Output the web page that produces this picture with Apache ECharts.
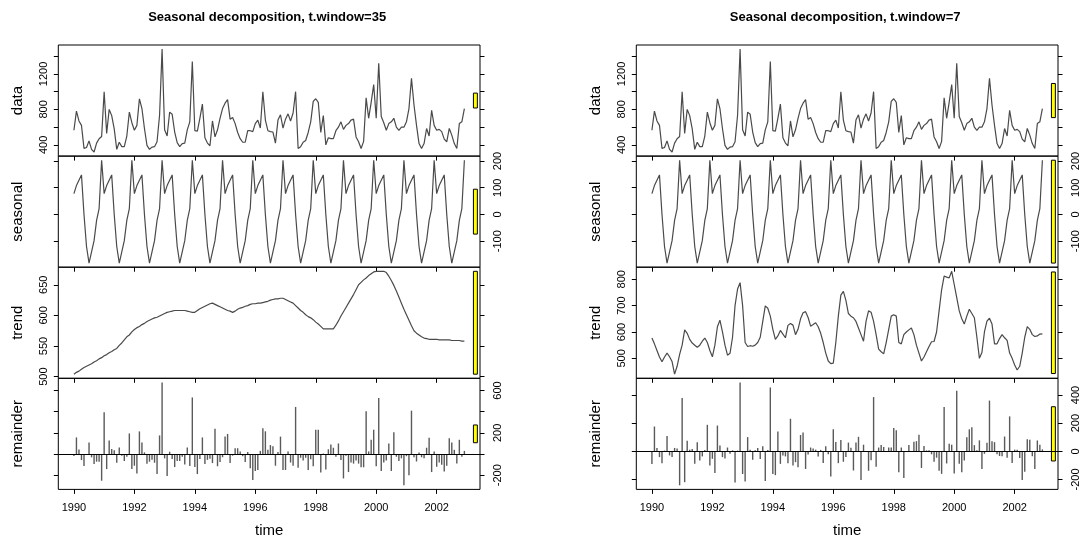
<!DOCTYPE html>
<html>
<head>
<meta charset="utf-8">
<script src="https://cdn.jsdelivr.net/npm/echarts@6/dist/echarts.min.js"></script>
<style>
  html, body { margin: 0; padding: 0; background: #ffffff; }
  #chart { width: 1083px; height: 541px; }
</style>
</head>
<body>
<div id="chart"></div>
<script>
// Monthly series, Jan 1990 .. Dec 2002
const startYear = 1990;

const observed = [
  565, 780, 670, 620, 360, 370, 445, 350, 320, 420, 470, 495,
  1000, 530, 800, 730, 580, 350, 430, 380, 380, 500, 770, 650,
  565, 620, 920, 810, 585, 395, 350, 375, 380, 435, 735, 1480,
  570, 500, 770, 745, 545, 425, 380, 415, 420, 570, 660, 1340,
  560, 555, 700, 860, 480, 420, 390, 670, 490, 570, 700, 810,
  870, 910, 690, 710, 640, 540, 470, 430, 430, 560, 560, 550,
  640, 680, 590, 1000, 680, 560, 550, 545, 420, 680, 740, 590,
  690, 750, 670, 760, 1000, 360, 380, 430, 450, 540, 660, 890,
  920, 880, 540, 730, 400, 480, 470, 470, 560, 600, 660, 575,
  620, 640, 680, 690, 490, 435, 360, 440, 930, 700, 880, 1080,
  700, 1320, 720, 650, 565, 640, 660, 700, 600, 565, 600, 600,
  660, 810, 1150, 850, 620, 415, 360, 415, 585, 500, 790, 620,
  565, 575, 550, 465, 435, 585, 510, 415, 360, 640, 660, 810
];

// periodic seasonal component, Jan..Dec
const seasonalByMonth = [78, 108, 128, 148, 0, -120, -182, -140, -98, -22, 22, 203];

// trend, t.window = 35
const trendWide = [
  504, 507, 509, 512, 515, 517, 519, 521, 524, 526, 529, 531,
  534, 536, 539, 541, 544, 546, 551, 555, 560, 565, 568, 573,
  577, 580, 582, 585, 587, 590, 592, 594, 596, 597, 599, 601,
  603, 605, 606, 607, 608, 608, 608, 608, 608, 607, 606, 605,
  605, 608, 611, 613, 615, 617, 619, 620, 618, 616, 614, 612,
  610, 608, 607, 605, 607, 610, 612, 613, 615, 616, 618, 619,
  619, 620, 620, 621, 622, 623, 625, 626, 627, 627, 628, 628,
  626, 624, 622, 620, 616, 612, 608, 605, 601, 598, 596, 593,
  589, 586, 582, 578, 578, 578, 578, 578, 584, 591, 599, 606,
  613, 620, 627, 634, 642, 650, 654, 658, 661, 665, 668, 671,
  672, 672, 672, 672, 670, 664, 657, 649, 640, 630, 620, 610,
  601, 592, 583, 575, 571, 568, 565, 563, 562, 561, 561, 561,
  561, 560, 560, 560, 560, 560, 559, 559, 559, 559, 558, 558
];

// trend, t.window = 7
const trendNarrow = [
  577, 555, 530, 505, 487, 505, 520, 506, 488, 440, 470, 515,
  550, 608, 595, 572, 558, 550, 542, 550, 565, 577, 560, 530,
  506, 550, 620, 645, 600, 550, 512, 519, 580, 700, 763, 787,
  700, 560, 545, 548, 546, 550, 560, 580, 640, 699, 690, 660,
  610, 572, 585, 606, 592, 578, 625, 632, 626, 590, 610, 650,
  673, 677, 655, 622, 628, 635, 620, 595, 560, 520, 490, 480,
  482, 560, 660, 740, 754, 720, 670, 660, 654, 640, 615, 590,
  565, 640, 680, 675, 640, 590, 535, 525, 517, 560, 610, 660,
  665, 660, 560, 555, 590, 600, 608, 615, 590, 550, 520, 490,
  505, 525, 545, 563, 564, 600, 680, 760, 812, 808, 805, 830,
  780, 730, 680, 650, 630, 660, 686, 670, 654, 580, 500, 522,
  600, 641, 652, 630, 555, 555, 575, 590, 578, 568, 520, 500,
  475, 456, 470, 520, 580, 620, 610, 590, 583, 585, 592, 593
];

// remainder, t.window = 35
const remainderWide = [
  -19, 157, 44, -57, -113, -9, 110, -31, -94, -72, -72, -252,
  394, -142, 129, 47, 35, -82, 63, -16, -66, -25, 195, -142,
  -110, -183, 214, 110, 16, -91, -72, -54, -82, -189, 176, 677,
  -41, -208, 22, -47, -123, -66, -66, -25, -98, 63, -113, 535,
  -123, -189, -47, 157, -95, -55, -45, -85, 240, -115, -75, -30,
  165, 190, -85, -15, 55, 55, 25, -20, -75, 20, -135, -245,
  -160, -150, 30, 245, 215, 40, 85, 75, -110, 20, 165, -150,
  -150, 25, -80, -110, 445, -130, -35, -60, -35, -150, -50, -115,
  230, 230, -175, 5, -145, 45, 90, 60, -25, 100, -55, -230,
  -15, -170, -80, -90, -60, -90, -125, -125, 405, 25, 135, 230,
  -115, 530, -160, -80, -60, 100, -160, 205, -25, -65, -40, -295,
  -20, -200, 410, -30, -70, 15, -30, -40, 60, 155, -170, 25,
  -120, -80, -100, -165, -110, 150, 110, 40, -90, 135, -25, 30
];

// remainder, t.window = 7
const remainderNarrow = [
  -90, 176, 24, -41, -84, 5, 108, -29, -41, 24, 20, -241,
  378, -219, 75, 12, 17, -89, 65, -65, -36, 10, 188, -101,
  -53, -154, 183, 41, -41, -51, 27, -17, 7, -222, 5, 489,
  -161, -214, 101, 12, -60, 7, 24, -55, 36, -210, 10, 453,
  -161, -169, 140, -89, -30, -36, -84, 231, -101, -77, -113, 116,
  133, -125, -22, 27, 20, 12, -36, 10, -82, 36, -20, -178,
  157, 67, -84, 80, -74, -40, 62, 25, -136, 62, 103, -203,
  47, 2, -138, -63, 385, -110, 27, 45, 31, 2, 28, 27,
  165, 150, -148, 27, -190, 0, 44, -5, 68, 72, 118, -118,
  37, 7, 7, -21, -74, -45, -138, -160, 315, -86, 53, 47,
  -158, 430, -88, -148, -65, 100, 156, 170, 44, 7, 78, -125,
  -18, 61, 360, 72, 65, -20, -33, -35, 105, -46, 248, -83,
  12, 11, -48, -203, -145, 85, 82, -35, -125, 77, 46, 14
];

const plotTitles = ['Seasonal decomposition, t.window=35', 'Seasonal decomposition, t.window=7'];
const panelNames = ['data', 'seasonal', 'trend', 'remainder'];
const yearTicks = [1990, 1992, 1994, 1996, 1998, 2000, 2002];

// tick positions and the labels printed at them, per plot and panel
const tickValues = [
  [[400, 600, 800, 1000, 1200, 1400], [-100, 0, 100, 200], [500, 550, 600, 650], [-200, 0, 200, 400, 600]],
  [[400, 600, 800, 1000, 1200, 1400], [-100, 0, 100, 200], [500, 600, 700, 800], [-200, 0, 200, 400]]
];
const tickLabels = [
  [[400, 800, 1200], [-100, 0, 100, 200], [500, 550, 600, 650], [-200, 200, 600]],
  [[400, 800, 1200], [-100, 0, 100, 200], [500, 600, 700, 800], [-200, 0, 200, 400]]
];

// ---- layout ----
const FONT = '"Liberation Sans", Arial, sans-serif';
const plotLeft = [58.3, 636.3];
const plotWidth = 421.7;
const panelTop = 45;
const panelHeight = 111.1;

const months = observed.map((_, i) => startYear + i / 12);
const seasonal = months.map((_, i) => seasonalByMonth[i % 12]);

function padded(values) {
  const lo = Math.min(...values), hi = Math.max(...values), d = (hi - lo) * 0.04;
  return [lo - d, hi + d];
}
const xr = padded(months);
const plain = v => String(Math.round(v));

const plots = [
  [observed, seasonal, trendWide, remainderWide],
  [observed, seasonal, trendNarrow, remainderNarrow]
];

const grid = [], xAxis = [], yAxis = [], series = [];

plots.forEach((panels, p) => {
  const ranges = panels.map(v => Math.max(...v) - Math.min(...v));
  const barSpan = Math.min(...ranges);
  const dx = (xr[1] - xr[0]) / 64;

  panels.forEach((values, k) => {
    const g = grid.length;
    const yr = padded(values);
    const bottomPanel = k === 3;
    const labelsLeft = k % 2 === 0;

    grid.push({
      left: plotLeft[p], top: panelTop + k * panelHeight,
      width: plotWidth, height: panelHeight,
      show: true, borderColor: '#000', borderWidth: 1, backgroundColor: 'transparent'
    });

    xAxis.push({
      type: 'value', gridIndex: g, min: xr[0], max: xr[1], position: 'bottom',
      axisLine: { show: false, onZero: false }, splitLine: { show: false },
      axisTick: { show: true, customValues: yearTicks, length: 4.5, lineStyle: { color: '#000', width: 1 } },
      axisLabel: {
        show: bottomPanel, customValues: yearTicks, margin: 13,
        fontFamily: FONT, fontSize: 11, color: '#000', formatter: plain
      },
      name: bottomPanel ? 'time' : '', nameLocation: 'middle', nameGap: 34,
      nameTextStyle: { fontFamily: FONT, fontSize: 15, color: '#000' }
    });

    const tickCommon = {
      type: 'value', gridIndex: g, min: yr[0], max: yr[1],
      axisLine: { show: false, onZero: false }, splitLine: { show: false },
      axisTick: { show: true, customValues: tickValues[p][k], length: 4.5, lineStyle: { color: '#000', width: 1 } }
    };
    yAxis.push(Object.assign({}, tickCommon, {
      position: 'left',
      axisLabel: {
        show: labelsLeft, customValues: tickLabels[p][k], rotate: 90, margin: 9,
        fontFamily: FONT, fontSize: 11, color: '#000', formatter: plain
      },
      name: panelNames[k], nameLocation: 'middle', nameGap: 33, nameRotate: 90,
      nameTextStyle: { fontFamily: FONT, fontSize: 15, color: '#000' }
    }));
    yAxis.push(Object.assign({}, tickCommon, {
      position: 'right',
      axisLabel: {
        show: !labelsLeft, customValues: tickLabels[p][k], rotate: 90, margin: 12,
        fontFamily: FONT, fontSize: 11, color: '#000', formatter: plain
      }
    }));

    const pts = months.map((t, i) => [t, values[i]]);
    if (bottomPanel) {
      series.push({
        type: 'custom', xAxisIndex: g, yAxisIndex: 2 * g, data: pts,
        encode: { x: 0, y: 1 },
        renderItem: (params, api) => {
          const a = api.coord([api.value(0), 0]);
          const b = api.coord([api.value(0), api.value(1)]);
          return { type: 'line', shape: { x1: a[0], y1: a[1], x2: b[0], y2: b[1] },
                   style: { stroke: '#5a5a5a', lineWidth: 1.4 } };
        },
        markLine: {
          silent: true, symbol: 'none', label: { show: false },
          lineStyle: { color: '#000', type: 'solid', width: 1 },
          data: [{ yAxis: 0 }]
        }
      });
    } else {
      series.push({
        type: 'line', xAxisIndex: g, yAxisIndex: 2 * g, data: pts,
        showSymbol: false, symbol: 'none',
        lineStyle: { color: '#4a4a4a', width: 1.2 }
      });
    }

    // scale bar: equal value span on every panel, centred on the panel's range
    const mid = (Math.min(...values) + Math.max(...values)) / 2;
    series.push({
      type: 'custom', xAxisIndex: g, yAxisIndex: 2 * g, clip: false,
      data: [[xr[1] - dx, xr[1] - 0.4 * dx, mid - barSpan / 2, mid + barSpan / 2]],
      encode: { x: [0, 1], y: [2, 3] },
      renderItem: (params, api) => {
        const a = api.coord([api.value(0), api.value(3)]);
        const b = api.coord([api.value(1), api.value(2)]);
        return { type: 'rect', shape: { x: a[0], y: a[1], width: b[0] - a[0], height: b[1] - a[1] },
                 style: { fill: '#ffff00', stroke: '#000', lineWidth: 1 } };
      }
    });
  });
});

const title = plotTitles.map((text, p) => ({
  text, left: plotLeft[p] + plotWidth / 2 - 2, top: 11, padding: 0, textAlign: 'center',
  textStyle: { fontFamily: FONT, fontSize: 13, fontWeight: 'bold', color: '#000' }
}));

const chart = echarts.init(document.getElementById('chart'), null, { renderer: 'canvas' });
chart.setOption({
  backgroundColor: '#ffffff',
  animation: false,
  title, grid, xAxis, yAxis, series
});
</script>
</body>
</html>
